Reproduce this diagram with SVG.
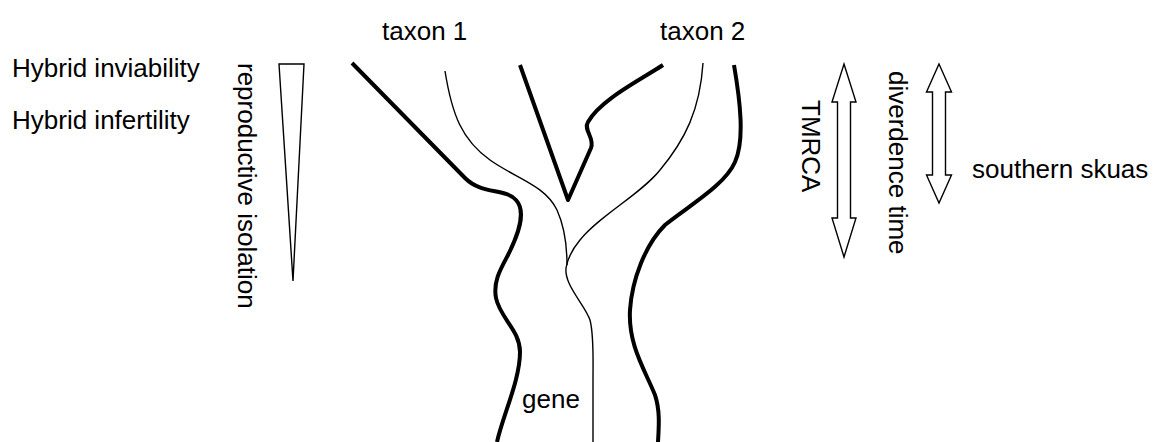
<svg xmlns="http://www.w3.org/2000/svg" width="1156" height="442" viewBox="0 0 1156 442">
<style>
text{font-family:"Liberation Sans",Arial,sans-serif;font-size:26px;fill:#000}
.thick{fill:none;stroke:#000;stroke-width:4;stroke-linejoin:round}
.thin{fill:none;stroke:#000;stroke-width:1.4}
.shape{fill:#fff;stroke:#000;stroke-width:1.4;stroke-linejoin:miter}
</style>
<rect width="1156" height="442" fill="#fff"/>
<g id="labels-left">
<text x="12" y="77">Hybrid inviability</text>
<text x="12" y="129">Hybrid infertility</text>
</g>
<g id="isolation">
<polygon class="shape" points="279,64 304,64 293,281"/>
<text transform="translate(238,63) rotate(90)">reproductive isolation</text>
</g>
<g id="taxa">
<text x="382" y="40">taxon 1</text>
<text x="660" y="40">taxon 2</text>
<text x="522" y="408">gene</text>
</g>
<g id="connectors">
<path id="species-left" class="thick" d="M352,63 L465,178 C482,195 505,188 516,200 C527,212 518,235 508,255 C500,270 493,282 496,298 C500,318 520,330 520,352 C520,380 503,415 497,442"/>
<path id="species-inner" class="thick" d="M520,65 L568,200 L591,148 C595,138 583,130 588,122 C600,100 640,80 663,65"/>
<path id="species-right" class="thick" d="M734,65 C740,100 745,140 735,162 C725,185 690,205 665,225 C645,245 632,280 630,310 C628,345 645,370 655,395 C660,410 659,425 658,442"/>
<path id="gene-left" class="thin" d="M445,71 C452,115 462,140 490,160 C515,178 545,185 557,210 C566,230 567,255 567,265"/>
<path id="gene-right" class="thin" d="M703,63 C700,110 685,140 660,170 C640,195 600,215 580,240 C570,252 567,262 566,268"/>
<path id="gene-root" class="thin" d="M566,268 C564,285 585,305 590,320 C594,335 593,360 593,380 L593,442"/>
</g>
<g id="tmrca">
<polygon class="shape" points="844,64 856,102 850.5,102 850.5,218 856,218 844,257 832,218 837.5,218 837.5,102 832,102"/>
<text transform="translate(802,100) rotate(90)">TMRCA</text>
</g>
<g id="divergence">
<polygon class="shape" points="939,64 951.5,92 945.5,92 945.5,175 951.5,175 939,203 926.5,175 932.5,175 932.5,92 926.5,92"/>
<text transform="translate(889,71) rotate(90)">diverdence time</text>
</g>
<g id="skuas">
<text x="972" y="178">southern skuas</text>
</g>
</svg>
